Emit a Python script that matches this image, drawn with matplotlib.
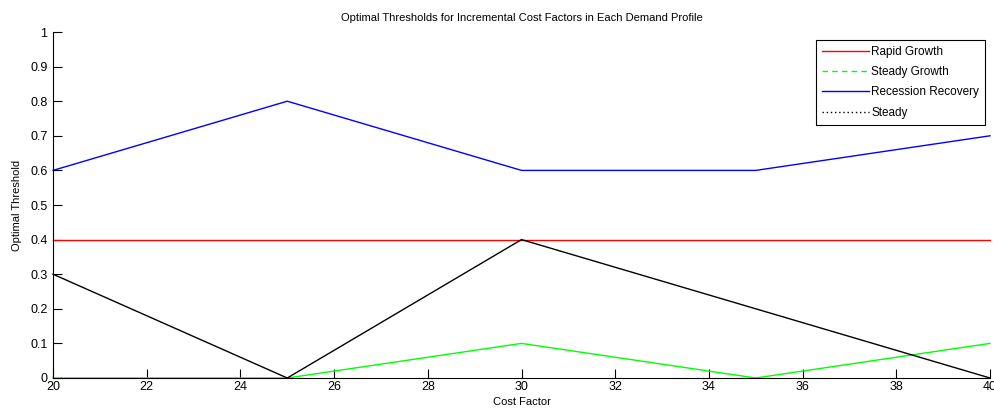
import matplotlib
matplotlib.use("Agg")
import matplotlib.pyplot as plt
from matplotlib.lines import Line2D

plt.rcParams['font.family'] = ['Liberation Sans Narrow', 'Liberation Sans', 'DejaVu Sans']

cost_factor = [20, 25, 30, 35, 40]
rapid_growth = [0.4, 0.4, 0.4, 0.4, 0.4]
steady_growth = [0.0, 0.0, 0.1, 0.0, 0.1]
recession_recovery = [0.6, 0.8, 0.6, 0.6, 0.7]
steady = [0.3, 0.0, 0.4, 0.2, 0.0]
series_names = ['Rapid Growth', 'Steady Growth', 'Recession Recovery', 'Steady']
xticks = [20, 22, 24, 26, 28, 30, 32, 34, 36, 38, 40]
yticks = [0, 0.1, 0.2, 0.3, 0.4, 0.5, 0.6, 0.7, 0.8, 0.9, 1]
ytick_labels = ['0', '0.1', '0.2', '0.3', '0.4', '0.5', '0.6', '0.7', '0.8', '0.9', '1']

fig = plt.figure(figsize=(9.94, 4.12), dpi=100)
ax = fig.add_axes([53/994, 1-378/412, (990-53)/994, (378-32)/412])

lw = 1.0
ax.plot(cost_factor, rapid_growth, color=(1, 0, 0), lw=lw, clip_on=False)
ax.plot(cost_factor, steady_growth, color=(0, 1, 0), lw=lw, clip_on=False)
ax.plot(cost_factor, recession_recovery, color=(0, 0, 1), lw=lw, clip_on=False)
ax.plot(cost_factor, steady, color=(0, 0, 0), lw=lw, clip_on=False)

ax.set_xlim(20, 40)
ax.set_ylim(0, 1)
ax.set_xticks(xticks)
ax.set_xticklabels([str(v) for v in xticks])
ax.set_yticks(yticks)
ax.set_yticklabels(ytick_labels)
ax.tick_params(direction='in', length=6.5, width=0.8, labelsize=9, pad=2)
ax.tick_params(axis='y', pad=4)
for s in ['top', 'right']:
    ax.spines[s].set_visible(False)
for s in ['left', 'bottom']:
    ax.spines[s].set_linewidth(0.8)

ax.set_title('Optimal Thresholds for Incremental Cost Factors in Each Demand Profile', fontsize=8, pad=8)
ax.set_xlabel('Cost Factor', fontsize=8, labelpad=3)
ax.set_ylabel('Optimal Threshold', fontsize=8, labelpad=6)

handles = [
    Line2D([], [], color=(1, 0, 0), lw=lw, ls='-'),
    Line2D([], [], color=(0, 1, 0), lw=lw, ls=(0, (4, 3))),
    Line2D([], [], color=(0, 0, 1), lw=lw, ls='-'),
    Line2D([], [], color=(0, 0, 0), lw=lw, ls=(0, (1, 2))),
]
leg = ax.legend(handles, series_names, loc='upper right', bbox_to_anchor=(985/994, 1-40/412),
                bbox_transform=fig.transFigure, fontsize=8.5, frameon=True, fancybox=False,
                edgecolor='black', framealpha=1, handlelength=4.0, handletextpad=0.2,
                borderpad=0.5, labelspacing=0.7, borderaxespad=0)
leg.get_frame().set_linewidth(0.8)

fig.savefig('out.png', dpi=100)
